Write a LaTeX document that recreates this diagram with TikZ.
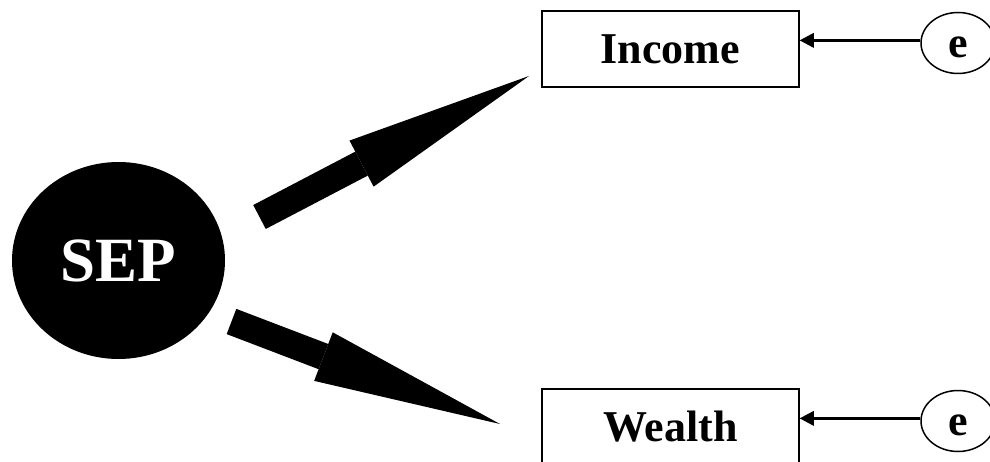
\documentclass[tikz,border=0pt]{standalone}
\usepackage{fontspec}
\setmainfont{Liberation Serif}
\usetikzlibrary{arrows.meta,shapes.geometric}

\begin{document}
\begin{tikzpicture}[x=1pt,y=-1pt,
  latent/.style={ellipse, fill=black, text=white, inner sep=0pt,
    minimum width=213pt, minimum height=197pt,
    font=\fontsize{63}{70}\selectfont\bfseries},
  observed/.style={rectangle, draw=black, line width=1.5pt, inner sep=0pt,
    minimum width=257pt, minimum height=76pt,
    font=\fontsize{44}{48}\selectfont\bfseries},
  errvar/.style={ellipse, draw=black, line width=1.5pt, inner sep=0pt,
    minimum width=74pt, minimum height=61pt,
    font=\fontsize{44}{48}\selectfont\bfseries},
  loading/.style={line width=27pt,
    -{Triangle[length=189pt,width=52pt,line width=0pt]}},
  errpath/.style={line width=2.5pt,
    -{Triangle[length=14pt,width=15pt,line width=0pt]}}
]
\useasboundingbox (0,0) rectangle (990,462);

% latent factor and its indicators
\node[latent]   (sep)    at (118.5,260.5) {SEP};
\node[observed] (income) at (670.5,49)    {Income};
\node[observed] (wealth) at (670.5,427)   {Wealth};

% error terms (letter sits a little below the centre)
\node[errvar] (e1) at (958,43)  {\raisebox{-4pt}[\height][\depth]{e}};
\node[errvar] (e2) at (958,421) {\raisebox{-4pt}[\height][\depth]{e}};

% factor loadings drawn as heavy arrows
\coordinate (l1s) at (259.5,217);
\coordinate (l1e) at (529,76);
\coordinate (l2s) at (231.5,321.5);
\coordinate (l2e) at (500,424);
\draw[loading] (l1s) -- (l1e);
\draw[loading] (l2s) -- (l2e);

% error paths
\draw[errpath] (e1.176) -- (e1.176 -| income.east);
\draw[errpath] (e2.176) -- (e2.176 -| wealth.east);
\end{tikzpicture}
\end{document}
